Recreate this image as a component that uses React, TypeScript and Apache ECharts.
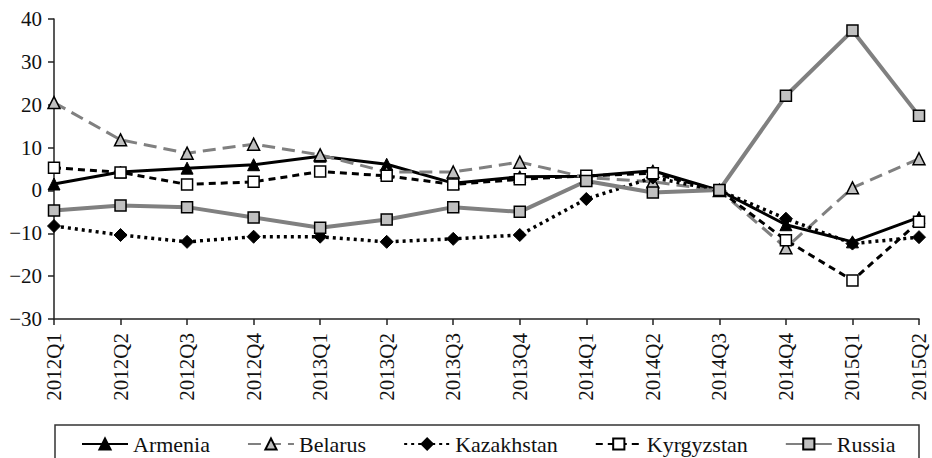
import React, { useEffect, useRef } from "react";
import * as echarts from "echarts";

const categories = [
  "2012Q1", "2012Q2", "2012Q3", "2012Q4",
  "2013Q1", "2013Q2", "2013Q3", "2013Q4",
  "2014Q1", "2014Q2", "2014Q3", "2014Q4",
  "2015Q1", "2015Q2",
];

const armenia = [1.5, 4.3, 5.2, 6.0, 8.0, 6.1, 1.7, 3.2, 3.3, 4.6, 0, -8.0, -12.0, -6.3];
const belarus = [20.5, 11.8, 8.7, 10.8, 8.3, 4.3, 4.3, 6.6, 3.0, 2.0, 0, -13.4, 0.6, 7.4];
const kazakhstan = [-8.3, -10.4, -12.0, -10.8, -10.8, -12.0, -11.3, -10.4, -2.0, 3.0, 0, -6.6, -12.4, -10.9];
const kyrgyzstan = [5.3, 4.2, 1.4, 2.0, 4.4, 3.4, 1.4, 2.6, 3.4, 4.0, 0, -11.6, -21.0, -7.3];
const russia = [-4.7, -3.5, -3.9, -6.3, -8.7, -6.8, -3.9, -5.0, 2.2, -0.5, 0.1, 22.1, 37.3, 17.4];

const yMin = -30;
const yMax = 40;
const yStep = 10;

const FONT = "Times New Roman";

export default function App() {
  const ref = useRef<HTMLDivElement>(null);

  useEffect(() => {
    if (!ref.current) return;
    const chart = echarts.init(ref.current, null, { renderer: "svg" });
    const gray = "#808080";
    const lightGray = "#c0c0c0";
    chart.setOption({
      animation: false,
      backgroundColor: "#ffffff",
      textStyle: { fontFamily: FONT },
      grid: { left: 54, right: 13, top: 19, bottom: 139, containLabel: false },
      xAxis: {
        type: "category",
        data: categories,
        boundaryGap: false,
        axisLine: { onZero: false, lineStyle: { color: "#222", width: 1.5 } },
        axisTick: { show: true, length: 6, alignWithLabel: true, lineStyle: { color: "#222", width: 1.5 } },
        axisLabel: {
          rotate: 90,
          margin: 14,
          interval: 0,
          color: "#111",
          fontSize: 21,
          fontFamily: FONT,
        },
        splitLine: { show: false },
      },
      yAxis: {
        type: "value",
        min: yMin,
        max: yMax,
        interval: yStep,
        axisLine: { show: true, lineStyle: { color: "#222", width: 1.5 } },
        axisTick: { show: true, length: 6, lineStyle: { color: "#222", width: 1.5 } },
        axisLabel: {
          margin: 12,
          color: "#111",
          fontSize: 21,
          fontFamily: FONT,
          formatter: (v: number) => String(v).replace("-", "\u2212"),
        },
        splitLine: { show: false },
      },
      legend: {
        top: 428,
        left: 76,
        itemWidth: 46,
        itemHeight: 14,
        itemGap: 37,
        textStyle: { fontSize: 22, fontFamily: FONT, color: "#111" },
        data: ["Armenia", "Belarus", "Kazakhstan", "Kyrgyzstan", "Russia"],
      },
      graphic: [
        {
          type: "rect",
          shape: { x: 55, y: 425, width: 864, height: 60 },
          style: { fill: "none", stroke: "#333", lineWidth: 1.5 },
          silent: true,
        },
      ],
      series: [
        {
          name: "Armenia",
          type: "line",
          data: armenia,
          symbol: "triangle",
          symbolSize: 12,
          lineStyle: { color: "#000", width: 3 },
          itemStyle: { color: "#000", borderColor: "#000", borderWidth: 1 },
        },
        {
          name: "Belarus",
          type: "line",
          data: belarus,
          symbol: "triangle",
          symbolSize: 12,
          lineStyle: { color: gray, width: 3, type: [13, 7] },
          itemStyle: { color: lightGray, borderColor: "#000", borderWidth: 1.5 },
        },
        {
          name: "Kazakhstan",
          type: "line",
          data: kazakhstan,
          symbol: "diamond",
          symbolSize: 13,
          lineStyle: { color: "#000", width: 3.5, type: [3, 4] },
          itemStyle: { color: "#000", borderColor: "#000", borderWidth: 1 },
        },
        {
          name: "Kyrgyzstan",
          type: "line",
          data: kyrgyzstan,
          symbol: "rect",
          symbolSize: 11,
          lineStyle: { color: "#000", width: 3, type: [7, 5] },
          itemStyle: { color: "#fff", borderColor: "#000", borderWidth: 1.5 },
        },
        {
          name: "Russia",
          type: "line",
          data: russia,
          symbol: "rect",
          symbolSize: 11,
          lineStyle: { color: gray, width: 4 },
          itemStyle: { color: lightGray, borderColor: "#000", borderWidth: 1.5 },
        },
      ],
    });
    return () => chart.dispose();
  }, []);

  return <div ref={ref} style={{ width: 932, height: 458, position: "absolute", left: 0, top: 0 }} />;
}
